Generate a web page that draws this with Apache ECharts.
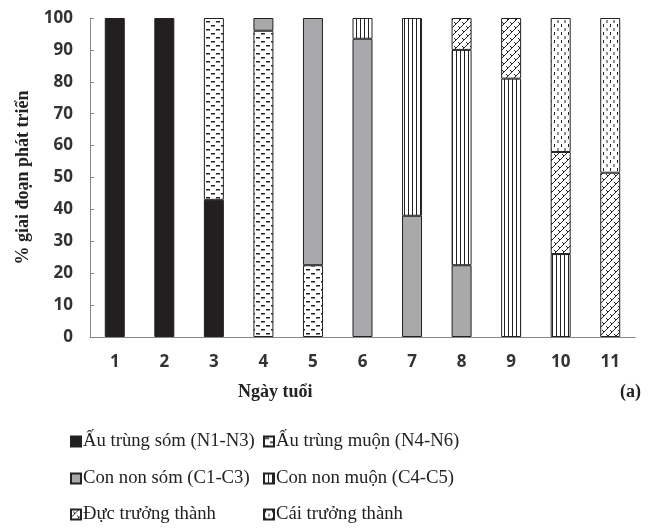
<!DOCTYPE html>
<html><head><meta charset="utf-8">
<script src="https://cdn.jsdelivr.net/npm/echarts@6/dist/echarts.min.js"></script>
<style>html,body{margin:0;padding:0;background:#fff}#c{width:648px;height:530px}</style>
</head><body><div id="c"></div>
<script>
const days = ['1','2','3','4','5','6','7','8','9','10','11'];
const seriesNames = ['Ấu trùng sóm (N1-N3)','Ấu trùng muộn (N4-N6)','Con non sóm (C1-C3)','Con non muộn (C4-C5)','Đực trưởng thành','Cái trưởng thành'];
const earlyNymph  = [100,100,43,0,0,0,0,0,0,0,0];
const lateNymph   = [0,0,57,96,22.5,0,0,0,0,0,0];
const earlyCope   = [0,0,0,4,77.5,93.5,38,22.5,0,0,0];
const lateCope    = [0,0,0,0,0,6.5,62,67.5,81,26,0];
const maleAdult   = [0,0,0,0,0,0,0,10,19,32,51.5];
const femaleAdult = [0,0,0,0,0,0,0,0,0,42,48.5];
const yTicks = [0,10,20,30,40,50,60,70,80,90,100];

function tile(w,h,draw){
  const c=document.createElement('canvas');c.width=w;c.height=h;
  const g=c.getContext('2d');g.fillStyle='#fff';g.fillRect(0,0,w,h);
  g.strokeStyle='#222';g.fillStyle='#222';draw(g);return c;
}
const patDash = tile(10,8,g=>{g.fillRect(1,1,4,1.5);g.fillRect(6,5,4,1.5);});
const patVert = tile(4,4,g=>{g.fillRect(0,0,1,4);});
const patMale = tile(8,8,g=>{g.lineWidth=1;g.beginPath();g.moveTo(0,8);g.lineTo(8,0);g.moveTo(-4,4);g.lineTo(4,-4);g.moveTo(4,12);g.lineTo(12,4);
  g.moveTo(2,2);g.lineTo(4,4);g.moveTo(6,6);g.lineTo(8,8);g.stroke();});
const patFemale = tile(7,8,g=>{g.fillRect(1,0,1,3);g.fillRect(4.5,4,1,3);});

const fills = ['#231f20',{image:patDash,repeat:'repeat'},'#a9a9ab',{image:patVert,repeat:'repeat'},{image:patMale,repeat:'repeat'},{image:patFemale,repeat:'repeat'}];
const dataArr = [earlyNymph,lateNymph,earlyCope,lateCope,maleAdult,femaleAdult];
const legendPos = [[70,432],[263,432],[70,469],[263,469],[70,505],[263,505]];

const chart = echarts.init(document.getElementById('c'));
chart.setOption({
  animation:false,
  grid:{left:90,right:13,top:18,bottom:193},
  legend: seriesNames.map((n,i)=>({left:legendPos[i][0],top:legendPos[i][1],data:[n],
    itemWidth:10,itemHeight:10,icon:'rect',padding:0,
    textStyle:{fontFamily:'Liberation Serif',fontSize:18.7,color:'#222',padding:[0,0,0,-3]}})),
  xAxis:{type:'category',data:days,
    axisLine:{lineStyle:{color:'#888'}},
    axisTick:{inside:true,length:4,lineStyle:{color:'#888'}},
    axisLabel:{fontFamily:'Open Sans',fontWeight:'bold',fontSize:17,color:'#333',margin:17}},
  yAxis:{type:'value',min:0,max:100,interval:10,
    name:'% giai đoạn phát triển',nameLocation:'middle',nameGap:58,nameRotate:90,
    nameTextStyle:{fontFamily:'Liberation Serif',fontWeight:'bold',fontSize:18,color:'#222'},
    axisLine:{show:true,lineStyle:{color:'#888'}},
    axisTick:{show:true,inside:true,length:4,lineStyle:{color:'#888'}},
    splitLine:{show:false},
    axisLabel:{fontFamily:'Open Sans',fontWeight:'bold',fontSize:17,color:'#333',margin:17,
      formatter:v=>yTicks.includes(v)?String(v):''}},
  graphic:[
    {type:'text',left:238,top:383,style:{text:'Ngày tuổi',font:'bold 18px "Liberation Serif"',fill:'#222'}},
    {type:'text',left:620,top:383,style:{text:'(a)',font:'bold 18px "Liberation Serif"',fill:'#222'}}],
  series: seriesNames.map((n,i)=>({
    name:n,type:'bar',stack:'s',barWidth:20,
    data:dataArr[i].map(v=>v===0?null:v),
    itemStyle:{color:fills[i],borderColor:'#222',borderWidth:1}
  }))
});
</script></body></html>
